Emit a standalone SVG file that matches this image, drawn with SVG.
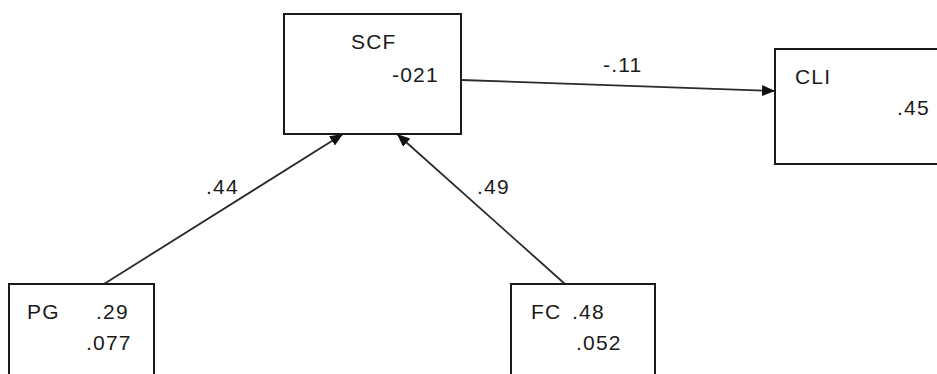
<svg xmlns="http://www.w3.org/2000/svg" width="937" height="374" viewBox="0 0 937 374">
  <style>
    .box { fill: #ffffff; stroke: #1a1a1a; stroke-width: 2; }
    .lbl { font-family: "Liberation Sans", Arial, sans-serif; font-size: 21px; letter-spacing: 1.2px; fill: #1a1a1a; }
    .edge { stroke: #2a2a2a; stroke-width: 1.8; fill: none; marker-end: url(#arrow); }
  </style>
  <defs>
    <marker id="arrow" viewBox="0 0 13 11" refX="13" refY="5.5" markerWidth="13" markerHeight="11" markerUnits="userSpaceOnUse" orient="auto">
      <path d="M0,0 L13,5.5 L0,11 Z" fill="#111111"/>
    </marker>
  </defs>
  <rect width="937" height="374" fill="#ffffff"/>

  <g id="connectors">
    <line class="edge" x1="461" y1="80" x2="775" y2="91"/>
    <line class="edge" x1="104" y1="284" x2="343" y2="134"/>
    <line class="edge" x1="565" y1="284" x2="397" y2="134"/>
    <text class="lbl" x="603" y="72">-.11</text>
    <text class="lbl" x="206" y="194">.44</text>
    <text class="lbl" x="477" y="194">.49</text>
  </g>

  <g id="SCF">
    <rect class="box" x="284" y="14" width="177" height="120"/>
    <text class="lbl" x="351" y="49">SCF</text>
    <text class="lbl" x="392" y="82">-021</text>
  </g>

  <g id="CLI">
    <rect class="box" x="775" y="49" width="170" height="115"/>
    <text class="lbl" x="795" y="84">CLI</text>
    <text class="lbl" x="897" y="115">.45</text>
  </g>

  <g id="PG">
    <rect class="box" x="9" y="284" width="145" height="100"/>
    <text class="lbl" x="27" y="319">PG</text>
    <text class="lbl" x="96" y="319">.29</text>
    <text class="lbl" x="86" y="350">.077</text>
  </g>

  <g id="FC">
    <rect class="box" x="511" y="284" width="144" height="100"/>
    <text class="lbl" x="531" y="319">FC</text>
    <text class="lbl" x="572" y="319">.48</text>
    <text class="lbl" x="576" y="350">.052</text>
  </g>
</svg>
